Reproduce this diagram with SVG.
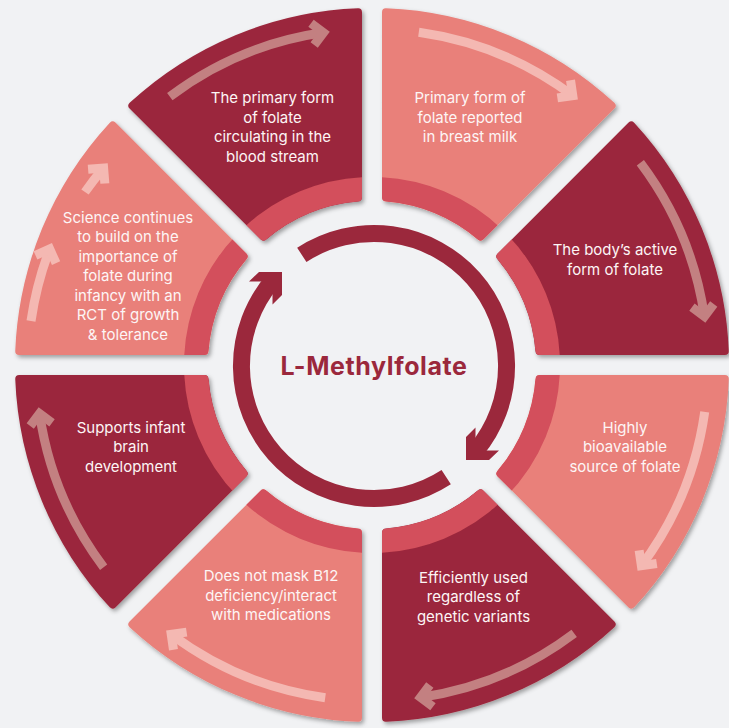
<svg xmlns="http://www.w3.org/2000/svg" width="729" height="728" viewBox="0 0 729 728">
  <defs>
    <style>
      .bg{fill:#f1f2f4}
      .dark{fill:#9b283c}
      .light{fill:#e9807a}
      .band{fill:none;stroke:#d34f5c;stroke-width:24}
      .lbl{font-family:Inter,"DejaVu Sans",sans-serif;font-size:15px;fill:#fdf5f5;text-anchor:middle}
      .title{font-family:Inter,"DejaVu Sans",sans-serif;font-size:25px;font-weight:700;letter-spacing:0.6px;fill:#9b283c;text-anchor:middle}
      .ring{fill:none;stroke:#9b283c;stroke-width:17}
      .ahead{fill:#9b283c}
      .on-dark{fill:none;stroke:#c38081;stroke-width:9;marker-end:url(#chev-d)}
      .on-light{fill:none;stroke:#f4b8b2;stroke-width:9;marker-end:url(#chev-l)}
    </style>
    <!-- one ring sector, centred on the upward axis, origin at the wheel centre -->
    <path id="seg" d="M -54.93,-158.76 L -125.80,-329.83 Q -127.33,-333.53 -123.59,-334.96 A 357 357 0 0 1 123.59,-334.96 Q 127.33,-333.53 125.80,-329.83 L 54.93,-158.76 Q 53.40,-155.06 49.62,-156.36 A 164 164 0 0 0 -49.62,-156.36 Q -53.40,-155.06 -54.93,-158.76 Z"/>
    <clipPath id="segclip" clipPathUnits="userSpaceOnUse"><use href="#seg"/></clipPath>
    <filter id="shadow" x="-10%" y="-10%" width="130%" height="130%">
      <feDropShadow dx="2" dy="2.5" stdDeviation="2" flood-color="#000" flood-opacity="0.35"/>
    </filter>
    <marker id="chev-d" markerUnits="userSpaceOnUse" orient="auto" viewBox="-20 -20 40 40" markerWidth="40" markerHeight="40" refX="0" refY="0">
      <path d="M-11,-11 L0,0 L-11,11" fill="none" stroke="#c38081" stroke-width="9"/>
    </marker>
    <marker id="chev-l" markerUnits="userSpaceOnUse" orient="auto" viewBox="-20 -20 40 40" markerWidth="40" markerHeight="40" refX="0" refY="0">
      <path d="M-11,-11 L0,0 L-11,11" fill="none" stroke="#f4b8b2" stroke-width="9"/>
    </marker>
    <!-- half of the central cycle: arc plus its arrowhead -->
    <g id="cyc-arrow">
      <path class="ring" d="M -72.2,-111.1 A 132.5 132.5 0 0 1 101.5,85.2"/>
      <polygon class="ahead" points="92,94 92,71 101.5,61.5 101.5,84.5 125,84.5 115,94"/>
    </g>
    <!-- sector arrow, in the same frame as #seg -->
    <path id="sec-arrow" d="M -84.1,-325.3 A 336 336 0 0 1 82.4,-325.7"/>
  </defs>

  <rect class="bg" x="0" y="0" width="729" height="728"/>

  <g id="node-1">
    <g filter="url(#shadow)"><g transform="translate(372 365) rotate(22.5)"><use href="#seg" class="light"/><circle r="176" class="band" clip-path="url(#segclip)"/></g></g>
    <text class="lbl" x="470" y="103">Primary form of<tspan x="470" dy="19.5">folate reported</tspan><tspan x="470" dy="19.5">in breast milk</tspan></text>
  </g>

  <g id="node-2">
    <g filter="url(#shadow)"><g transform="translate(372 365) rotate(67.5)"><use href="#seg" class="dark"/><circle r="176" class="band" clip-path="url(#segclip)"/></g></g>
    <text class="lbl" x="615" y="255">The body’s active<tspan x="615" dy="19.5">form of folate</tspan></text>
  </g>

  <g id="node-3">
    <g filter="url(#shadow)"><g transform="translate(372 365) rotate(112.5)"><use href="#seg" class="light"/><circle r="176" class="band" clip-path="url(#segclip)"/></g></g>
    <text class="lbl" x="625" y="432.5">Highly<tspan x="625" dy="19.5">bioavailable</tspan><tspan x="625" dy="19.5">source of folate</tspan></text>
  </g>

  <g id="node-4">
    <g filter="url(#shadow)"><g transform="translate(372 365) rotate(157.5)"><use href="#seg" class="dark"/><circle r="176" class="band" clip-path="url(#segclip)"/></g></g>
    <text class="lbl" x="473.5" y="582.5">Efficiently used<tspan x="473.5" dy="19.5">regardless of</tspan><tspan x="473.5" dy="19.5">genetic variants</tspan></text>
  </g>

  <g id="node-5">
    <g filter="url(#shadow)"><g transform="translate(372 365) rotate(202.5)"><use href="#seg" class="light"/><circle r="176" class="band" clip-path="url(#segclip)"/></g></g>
    <text class="lbl" x="271" y="581">Does not mask B12<tspan x="271" dy="19.5">deficiency/interact</tspan><tspan x="271" dy="19.5">with medications</tspan></text>
  </g>

  <g id="node-6">
    <g filter="url(#shadow)"><g transform="translate(372 365) rotate(247.5)"><use href="#seg" class="dark"/><circle r="176" class="band" clip-path="url(#segclip)"/></g></g>
    <text class="lbl" x="131" y="432.5">Supports infant<tspan x="131" dy="19.5">brain</tspan><tspan x="131" dy="19.5">development</tspan></text>
  </g>

  <g id="node-7">
    <g filter="url(#shadow)"><g transform="translate(372 365) rotate(292.5)"><use href="#seg" class="light"/><circle r="176" class="band" clip-path="url(#segclip)"/></g></g>
    <text class="lbl" x="128" y="222.5">Science continues<tspan x="128" dy="19.5">to build on the</tspan><tspan x="128" dy="19.5">importance of</tspan><tspan x="128" dy="19.5">folate during</tspan><tspan x="128" dy="19.5">infancy with an</tspan><tspan x="128" dy="19.5">RCT of growth</tspan><tspan x="128" dy="19.5">&amp; tolerance</tspan></text>
  </g>

  <g id="node-8">
    <g filter="url(#shadow)"><g transform="translate(372 365) rotate(337.5)"><use href="#seg" class="dark"/><circle r="176" class="band" clip-path="url(#segclip)"/></g></g>
    <text class="lbl" x="272.5" y="103">The primary form<tspan x="272.5" dy="19.5">of folate</tspan><tspan x="272.5" dy="19.5">circulating in the</tspan><tspan x="272.5" dy="19.5">blood stream</tspan></text>
  </g>

  <g id="hub">
    <text class="title" x="374" y="375">L-Methylfolate</text>
  </g>

  <g id="connectors">
    <use href="#cyc-arrow" transform="translate(374 366)"/>
    <use href="#cyc-arrow" transform="translate(374 366) rotate(180)"/>
    <use href="#sec-arrow" class="on-light" transform="translate(372 365) rotate(22.5)"/>
    <use href="#sec-arrow" class="on-dark" transform="translate(372 365) rotate(67.5)"/>
    <use href="#sec-arrow" class="on-light" transform="translate(372 365) rotate(112.5)"/>
    <use href="#sec-arrow" class="on-dark" transform="translate(372 365) rotate(157.5)"/>
    <use href="#sec-arrow" class="on-light" transform="translate(372 365) rotate(202.5)"/>
    <use href="#sec-arrow" class="on-dark" transform="translate(372 365) rotate(247.5)"/>
    <path class="on-light" d="M 31,321 A 340 340 0 0 1 49.7,249"/>
    <path class="on-light" d="M 85,192 A 336 336 0 0 1 103.6,168"/>
    <use href="#sec-arrow" class="on-dark" transform="translate(372 365) rotate(337.5)"/>
  </g>
</svg>
